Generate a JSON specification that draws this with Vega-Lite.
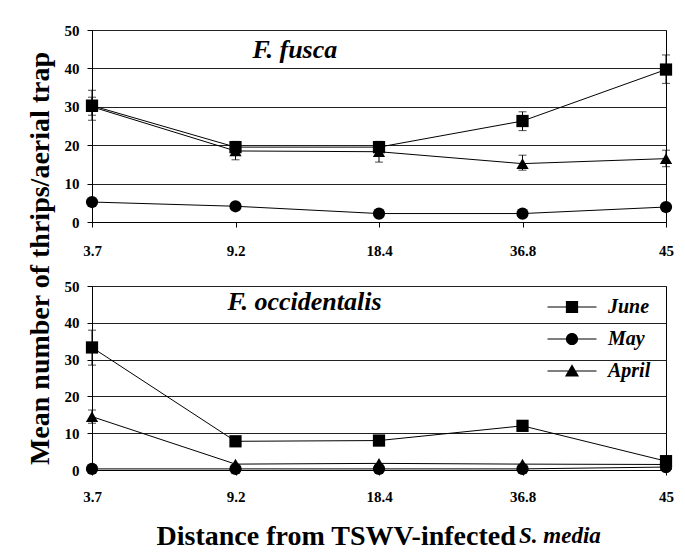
{
  "$schema": "https://vega.github.io/schema/vega-lite/v6.json",
  "background": "white",
  "padding": {"left": 26, "top": 22, "right": 6, "bottom": 0},
  "title": {"text": "Mean number of thrips/aerial trap", "orient": "left", "anchor": "middle", "fontSize": 28, "font": "Liberation Serif", "fontWeight": "bold", "color": "black", "offset": 9, "dx": 28},
  "datasets": {
    "thrips": [
      {"panel": "F. fusca", "month": "June", "dist": 3.7, "mean": 30.3, "lo": 26.5, "hi": 34.3},
      {"panel": "F. fusca", "month": "June", "dist": 9.2, "mean": 19.5, "lo": 17.5, "hi": 21.0},
      {"panel": "F. fusca", "month": "June", "dist": 18.4, "mean": 19.5, "lo": 17.8, "hi": 21.0},
      {"panel": "F. fusca", "month": "June", "dist": 36.8, "mean": 26.3, "lo": 23.8, "hi": 28.7},
      {"panel": "F. fusca", "month": "June", "dist": 45, "mean": 39.7, "lo": 36.1, "hi": 43.5},
      {"panel": "F. fusca", "month": "May", "dist": 3.7, "mean": 5.2, "lo": null, "hi": null},
      {"panel": "F. fusca", "month": "May", "dist": 9.2, "mean": 4.1, "lo": null, "hi": null},
      {"panel": "F. fusca", "month": "May", "dist": 18.4, "mean": 2.2, "lo": null, "hi": null},
      {"panel": "F. fusca", "month": "May", "dist": 36.8, "mean": 2.2, "lo": null, "hi": null},
      {"panel": "F. fusca", "month": "May", "dist": 45, "mean": 3.9, "lo": null, "hi": null},
      {"panel": "F. fusca", "month": "April", "dist": 3.7, "mean": 30.0, "lo": 27.8, "hi": 32.5},
      {"panel": "F. fusca", "month": "April", "dist": 9.2, "mean": 18.5, "lo": 16.2, "hi": 20.5},
      {"panel": "F. fusca", "month": "April", "dist": 18.4, "mean": 18.3, "lo": 15.6, "hi": 20.5},
      {"panel": "F. fusca", "month": "April", "dist": 36.8, "mean": 15.2, "lo": 13.5, "hi": 17.4},
      {"panel": "F. fusca", "month": "April", "dist": 45, "mean": 16.5, "lo": 14.4, "hi": 18.7},
      {"panel": "F. occidentalis", "month": "June", "dist": 3.7, "mean": 33.3, "lo": 28.5, "hi": 38.0},
      {"panel": "F. occidentalis", "month": "June", "dist": 9.2, "mean": 7.8, "lo": null, "hi": null},
      {"panel": "F. occidentalis", "month": "June", "dist": 18.4, "mean": 8.0, "lo": null, "hi": null},
      {"panel": "F. occidentalis", "month": "June", "dist": 36.8, "mean": 12.0, "lo": null, "hi": null},
      {"panel": "F. occidentalis", "month": "June", "dist": 45, "mean": 2.4, "lo": null, "hi": null},
      {"panel": "F. occidentalis", "month": "May", "dist": 3.7, "mean": 0.3, "lo": null, "hi": null},
      {"panel": "F. occidentalis", "month": "May", "dist": 9.2, "mean": 0.3, "lo": null, "hi": null},
      {"panel": "F. occidentalis", "month": "May", "dist": 18.4, "mean": 0.3, "lo": null, "hi": null},
      {"panel": "F. occidentalis", "month": "May", "dist": 36.8, "mean": 0.3, "lo": null, "hi": null},
      {"panel": "F. occidentalis", "month": "May", "dist": 45, "mean": 0.8, "lo": null, "hi": null},
      {"panel": "F. occidentalis", "month": "April", "dist": 3.7, "mean": 14.5, "lo": 12.7, "hi": 16.3},
      {"panel": "F. occidentalis", "month": "April", "dist": 9.2, "mean": 1.6, "lo": null, "hi": null},
      {"panel": "F. occidentalis", "month": "April", "dist": 18.4, "mean": 1.8, "lo": null, "hi": null},
      {"panel": "F. occidentalis", "month": "April", "dist": 36.8, "mean": 1.6, "lo": null, "hi": null},
      {"panel": "F. occidentalis", "month": "April", "dist": 45, "mean": 1.5, "lo": null, "hi": null}
    ]
  },
  "config": {
    "font": "Liberation Serif",
    "view": {"stroke": "black", "strokeWidth": 1},
    "axis": {
      "labelFont": "Liberation Serif", "labelFontWeight": "bold", "labelFontSize": 15, "labelColor": "black",
      "domainColor": "black", "tickColor": "black", "gridColor": "#222", "gridWidth": 1,
      "titleFont": "Liberation Serif", "titleFontWeight": "bold", "titleColor": "black"
    },
    "axisY": {"tickCount": 10, "values": [0, 10, 20, 30, 40, 50], "labelOverlap": false}
  },
  "resolve": {"scale": {"shape": "independent"}, "legend": {"shape": "independent"}},
  "spacing": 19,
  "vconcat": [
    {
      "width": 574, "height": 192,
      "data": {"name": "thrips"},
      "transform": [{"filter": "datum.panel === 'F. fusca'"}],
      "encoding": {
        "x": {"field": "dist", "type": "ordinal", "scale": {"type": "point", "padding": 0}, "axis": {"labelAngle": 0, "title": null, "tickSize": 5, "labelPadding": 16, "grid": false}}
      },
      "layer": [
        {
          "mark": {"type": "line", "color": "black", "strokeWidth": 1},
          "encoding": {
            "y": {"field": "mean", "type": "quantitative", "scale": {"domain": [0, 50]}, "axis": {"values": [0, 10, 20, 30, 40, 50], "tickCount": 10, "labelOverlap": false, "grid": true, "tickSize": 5, "labelPadding": 8, "title": null}},
            "detail": {"field": "month"}
          }
        },
        {
          "transform": [{"filter": "datum.lo != null"}],
          "mark": {"type": "rule", "color": "black", "strokeWidth": 1},
          "encoding": {
            "y": {"field": "lo", "type": "quantitative"},
            "y2": {"field": "hi"}
          }
        },
        {
          "transform": [{"filter": "datum.lo != null"}],
          "mark": {"type": "tick", "color": "black", "size": 8, "thickness": 1, "orient": "horizontal"},
          "encoding": {"y": {"field": "lo", "type": "quantitative"}}
        },
        {
          "transform": [{"filter": "datum.lo != null"}],
          "mark": {"type": "tick", "color": "black", "size": 8, "thickness": 1, "orient": "horizontal"},
          "encoding": {"y": {"field": "hi", "type": "quantitative"}}
        },
        {
          "mark": {"type": "point", "filled": true, "opacity": 1, "size": 150, "color": "black"},
          "encoding": {
            "y": {"field": "mean", "type": "quantitative"},
            "shape": {"field": "month", "type": "nominal", "scale": {"domain": ["June", "May", "April"], "range": ["square", "circle", "triangle-up"]}, "legend": null}
          }
        },
        {
          "data": {"values": [{"label": "F. fusca"}]},
          "transform": [],
          "mark": {"type": "text", "font": "Liberation Serif", "fontSize": 26, "fontWeight": "bold", "fontStyle": "italic", "align": "left", "baseline": "middle", "dx": 17, "color": "black"},
          "encoding": {
            "x": {"datum": 9.2, "type": "ordinal"},
            "y": {"datum": 44.8, "type": "quantitative"},
            "text": {"field": "label"}
          }
        }
      ]
    },
    {
      "width": 574, "height": 184,
      "title": {"text": "S. media", "orient": "bottom", "anchor": "start", "fontSize": 23, "font": "Liberation Serif", "fontWeight": "bold", "fontStyle": "italic", "color": "black", "offset": 0, "dx": 455, "dy": -25},
      "data": {"name": "thrips"},
      "transform": [{"filter": "datum.panel === 'F. occidentalis'"}],
      "encoding": {
        "x": {"field": "dist", "type": "ordinal", "scale": {"type": "point", "padding": 0}, "axis": {"labelAngle": 0, "title": "Distance from TSWV-infected", "titleFontSize": 28, "titleX": 64, "titleAlign": "left", "titleAnchor": "start", "titlePadding": 18, "tickSize": 5, "labelPadding": 14, "grid": false}}
      },
      "resolve": {"scale": {"shape": "independent"}, "legend": {"shape": "independent"}},
      "layer": [
        {
          "mark": {"type": "line", "color": "black", "strokeWidth": 1},
          "encoding": {
            "y": {"field": "mean", "type": "quantitative", "scale": {"domain": [0, 50]}, "axis": {"values": [0, 10, 20, 30, 40, 50], "tickCount": 10, "labelOverlap": false, "grid": true, "tickSize": 5, "labelPadding": 8, "title": null}},
            "detail": {"field": "month"}
          }
        },
        {
          "transform": [{"filter": "datum.lo != null"}],
          "mark": {"type": "rule", "color": "black", "strokeWidth": 1},
          "encoding": {
            "y": {"field": "lo", "type": "quantitative"},
            "y2": {"field": "hi"}
          }
        },
        {
          "transform": [{"filter": "datum.lo != null"}],
          "mark": {"type": "tick", "color": "black", "size": 8, "thickness": 1, "orient": "horizontal"},
          "encoding": {"y": {"field": "lo", "type": "quantitative"}}
        },
        {
          "transform": [{"filter": "datum.lo != null"}],
          "mark": {"type": "tick", "color": "black", "size": 8, "thickness": 1, "orient": "horizontal"},
          "encoding": {"y": {"field": "hi", "type": "quantitative"}}
        },
        {
          "mark": {"type": "point", "filled": true, "opacity": 1, "size": 150, "color": "black"},
          "encoding": {
            "y": {"field": "mean", "type": "quantitative"},
            "shape": {"field": "month", "type": "nominal", "scale": {"domain": ["June", "May", "April"], "range": ["square", "circle", "triangle-up"]}, "legend": null}
          }
        },
        {
          "transform": [{"filter": "false"}],
          "mark": {"type": "point", "filled": true, "opacity": 1, "size": 150, "color": "black"},
          "encoding": {
            "y": {"field": "mean", "type": "quantitative"},
            "shape": {
              "field": "month", "type": "nominal",
              "scale": {"domain": ["June", "May", "April"], "range": [
                "M-4,-0.09H-0.95V0.09H-4ZM0.95,-0.09H4V0.09H0.95ZM-1,-1H1V1H-1Z",
                "M-4,-0.09H-0.95V0.09H-4ZM0.95,-0.09H4V0.09H0.95ZM1,0A1,1,0,1,1,-1,0A1,1,0,1,1,1,0Z",
                "M-4,-0.09H-0.6V0.09H-4ZM0.6,-0.09H4V0.09H0.6ZM0,-1.1L1.15,0.9H-1.15Z"
              ]},
              "legend": {
                "orient": "none", "legendX": 470, "legendY": 11, "title": null, "padding": 0,
                "labelFont": "Liberation Serif", "labelFontSize": 20, "labelFontStyle": "italic", "labelFontWeight": "bold", "labelColor": "black",
                "labelOffset": 26, "rowPadding": 12, "symbolSize": 150, "symbolFillColor": "black", "symbolOpacity": 1
              }
            }
          }
        },
        {
          "data": {"values": [{"label": "F. occidentalis"}]},
          "transform": [],
          "mark": {"type": "text", "font": "Liberation Serif", "fontSize": 26, "fontWeight": "bold", "fontStyle": "italic", "align": "left", "baseline": "middle", "dx": -8, "color": "black"},
          "encoding": {
            "x": {"datum": 9.2, "type": "ordinal"},
            "y": {"datum": 45.6, "type": "quantitative"},
            "text": {"field": "label"}
          }
        }
      ]
    }
  ]
}
